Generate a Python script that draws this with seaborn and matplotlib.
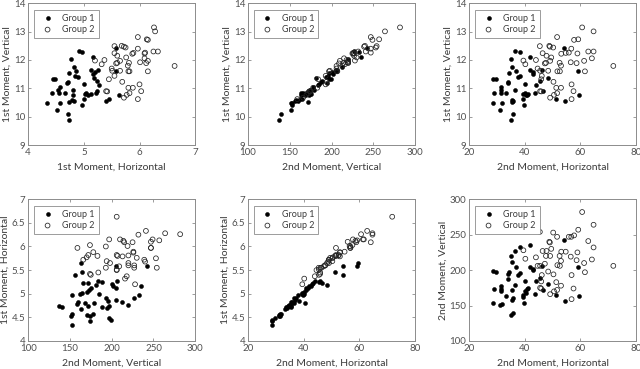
import matplotlib
matplotlib.use("Agg")
import matplotlib.pyplot as plt
import pandas as pd
import seaborn as sns

# Group 1 measurements (one entry per subject)
g1_h2 = [28.5, 28.6, 28.8, 29.8, 31.0, 31.3, 31.5, 31.8, 31.4, 33.2, 33.8, 34.1, 34.4, 34.9, 35.3,
         36.6, 38.1, 36.8, 36.5, 35.3, 35.7, 35.5, 35.6, 34.9, 37.4, 38.3, 39.8, 39.4, 39.5, 40.2,
         40.8, 41.0, 40.5, 40.2, 41.7, 42.8, 43.0, 42.0, 44.0, 43.5, 45.6, 46.0, 46.5, 48.4, 51.1,
         54.1, 54.3, 59.2, 59.5]
g1_v1 = [10.48, 11.34, 10.82, 11.32, 10.22, 10.82, 11.03, 10.49, 10.95, 10.85, 11.22, 11.18, 11.54, 12.04, 11.76,
         12.33, 12.29, 11.62, 10.94, 10.60, 10.56, 10.53, 10.09, 9.89, 11.39, 11.44, 10.41, 10.63, 10.80, 10.83,
         10.78, 10.80, 10.75, 11.14, 11.63, 11.52, 11.56, 12.10, 11.12, 10.85, 11.25, 11.65, 10.89, 11.37, 10.62,
         12.44, 10.57, 11.60, 10.77]
g1_v2 = [153, 199, 174, 197, 151, 171, 178, 152, 174, 163, 188, 194, 197, 220, 212,
         227, 233, 205, 179, 158, 160, 172, 140, 137, 193, 196, 153, 162, 165, 170,
         173, 175, 168, 185, 205, 202, 200, 235, 184, 166, 189, 206, 172, 181, 165,
         242, 156, 205, 163]
g1_h1 = [4.34, 4.45, 4.42, 4.48, 4.52, 4.55, 4.57, 4.58, 4.53, 4.67, 4.72, 4.70, 4.74, 4.77, 4.82,
         4.92, 4.97, 4.86, 4.80, 4.78, 4.82, 4.74, 4.72, 4.73, 4.90, 4.84, 4.97, 5.00, 5.02, 5.04,
         5.08, 5.12, 4.80, 5.00, 5.13, 5.16, 5.20, 5.17, 5.27, 5.22, 5.24, 5.26, 5.23, 5.18, 5.46,
         5.58, 5.40, 5.58, 5.64]

# Group 2 measurements
g2_h2 = [45.4, 48.8, 49.0, 50.2, 51.6, 57.7, 59.2, 60.6, 64.7, 56.7, 54.7, 55.8, 58.9, 62.8, 64.7,
         64.1, 61.3, 58.6, 56.5, 53.1, 52.5, 53.0, 51.7, 52.6, 47.8, 49.5, 46.4, 49.1, 47.6, 47.2,
         44.0, 39.5, 40.2, 44.6, 45.5, 48.4, 46.1, 45.9, 50.3, 61.6, 71.8, 51.3, 53.0, 56.8, 57.5,
         51.6, 50.5, 45.9, 45.5, 49.1, 56.8]
g2_v1 = [12.49, 12.50, 12.47, 12.44, 12.81, 12.71, 12.73, 13.15, 13.01, 12.40, 12.25, 12.26, 12.23, 12.30, 12.30,
         12.06, 11.97, 11.89, 11.92, 12.22, 11.90, 11.80, 11.60, 11.60, 12.15, 12.09, 12.24, 11.97, 11.90, 11.88,
         12.00, 11.98, 11.85, 11.70, 11.62, 11.62, 11.44, 11.32, 11.23, 11.60, 11.79, 11.02, 11.02, 11.14, 10.90,
         10.83, 10.77, 10.89, 10.90, 10.67, 10.62]
g2_v2 = [254, 240, 239, 253, 247, 249, 257, 282, 264, 247, 226, 247, 225, 241, 232,
         215, 210, 214, 219, 226, 220, 213, 207, 206, 227, 230, 227, 220, 220, 209,
         218, 228, 216, 206, 206, 198, 193, 184, 194, 197, 206, 183, 178, 193, 174,
         172, 170, 174, 175, 166, 159]
g2_h1 = [5.55, 5.68, 5.72, 5.75, 5.97, 6.15, 6.13, 6.26, 6.28, 5.97, 5.89, 6.10, 6.09, 6.33, 6.25,
         6.09, 6.15, 6.12, 6.01, 5.87, 5.81, 5.79, 5.80, 5.82, 5.60, 5.76, 5.55, 5.65, 5.60, 5.58,
         5.37, 5.20, 5.32, 5.50, 5.51, 5.65, 5.55, 5.45, 5.69, 6.15, 6.63, 5.80, 5.88, 6.00, 6.03,
         5.82, 5.77, 5.42, 5.40, 5.72, 5.97]

group_names = ["Group 1", "Group 2"]

df = pd.concat([
    pd.DataFrame({"h1": g1_h1, "v1": g1_v1, "h2": g1_h2, "v2": g1_v2, "group": group_names[0]}),
    pd.DataFrame({"h1": g2_h1, "v1": g2_v1, "h2": g2_h2, "v2": g2_v2, "group": group_names[1]}),
], ignore_index=True)

labels = {"h1": "1st Moment, Horizontal", "v1": "1st Moment, Vertical",
          "h2": "2nd Moment, Horizontal", "v2": "2nd Moment, Vertical"}
limits = {"h1": (4, 7), "v1": (9, 14), "h2": (20, 80), "v2": (100, 300)}
# h1 gets whole-number ticks on the x axis, half steps on the y axis
xticks = {"h1": [4, 5, 6, 7], "v1": [9, 10, 11, 12, 13, 14],
          "h2": [20, 40, 60, 80], "v2": [100, 150, 200, 250, 300]}
yticks = {"h1": [4, 4.5, 5, 5.5, 6, 6.5, 7], "v1": [9, 10, 11, 12, 13, 14],
          "h2": [20, 40, 60, 80], "v2": [100, 150, 200, 250, 300]}

# (x, y) for each panel, row by row
pairs = [("h1", "v1"), ("v2", "v1"), ("h2", "v1"),
         ("v2", "h1"), ("h2", "h1"), ("h2", "v2")]

sns.set_style("ticks")
plt.rcParams["font.family"] = ["Lato", "DejaVu Sans"]
plt.rcParams["xtick.direction"] = "in"
plt.rcParams["ytick.direction"] = "in"

fig = plt.figure(figsize=(6.4, 3.69), dpi=100)
lefts = [0.044, 0.3875, 0.733]
bottoms = [0.607, 0.076]
gray = "#8c8c8c"
txt = "#3a3a3a"

for i, (xv, yv) in enumerate(pairs):
    ax = fig.add_axes([lefts[i % 3], bottoms[i // 3], 0.261, 0.384])
    d1 = df[df.group == group_names[0]]
    d2 = df[df.group == group_names[1]]
    sns.scatterplot(x=d1[xv], y=d1[yv], ax=ax, s=8, color="black", edgecolor="black",
                    linewidth=0.4, label=group_names[0], zorder=3)
    sns.scatterplot(x=d2[xv], y=d2[yv], ax=ax, s=12, facecolor="none", edgecolor="#222222",
                    linewidth=0.55, label=group_names[1], zorder=3)
    ax.set_xlim(limits[xv])
    ax.set_ylim(limits[yv])
    ax.set_xticks(xticks[xv])
    ax.set_yticks(yticks[yv])
    ax.set_xticklabels([f"{t:g}" for t in xticks[xv]])
    ax.set_yticklabels([f"{t:g}" for t in yticks[yv]])
    ax.set_xlabel(labels[xv], fontsize=7.5, color=txt, labelpad=4)
    ax.set_ylabel(labels[yv], fontsize=7.5, color=txt, labelpad=1.5)
    ax.tick_params(labelsize=7, colors=gray, labelcolor="#505050", length=2, width=0.6,
                   top=True, right=True, pad=2)
    for sp in ax.spines.values():
        sp.set_visible(True)
        sp.set_color(gray)
        sp.set_linewidth(0.7)
    leg = ax.legend(loc="upper left", fontsize=6.5, frameon=True, fancybox=False,
                    borderpad=0.45, handletextpad=0.6, labelspacing=0.25,
                    borderaxespad=0.7, markerscale=1.0, framealpha=1)
    leg.get_frame().set_edgecolor(gray)
    leg.get_frame().set_linewidth(0.6)
    for t in leg.get_texts():
        t.set_color(txt)

fig.savefig("out.png", dpi=100)
